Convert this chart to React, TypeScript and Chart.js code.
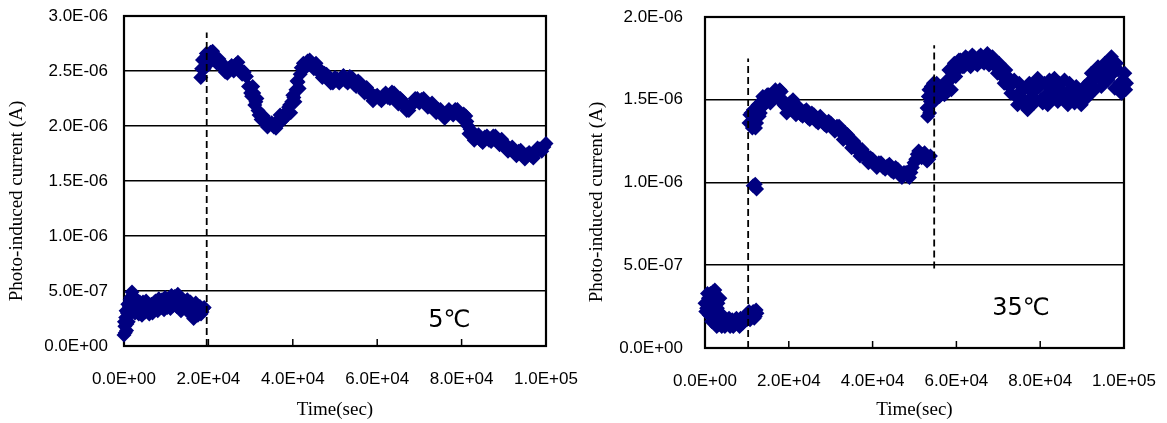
import React, { useEffect, useRef } from 'react';
import { Chart, registerables } from 'chart.js';
Chart.register(...registerables);

// ---------- shared tick labels ----------
const xTickValues = [0, 20000, 40000, 60000, 80000, 100000];
const xTickLabels = ['0.0E+00', '2.0E+04', '4.0E+04', '6.0E+04', '8.0E+04', '1.0E+05'];
const leftYTickLabels = ['0.0E+00', '5.0E-07', '1.0E-06', '1.5E-06', '2.0E-06', '2.5E-06', '3.0E-06'];
const rightYTickLabels = ['0.0E+00', '5.0E-07', '1.0E-06', '1.5E-06', '2.0E-06'];

// ---------- 5°C panel (time in s, current in µA) ----------
const left5DarkTime = [0, 200, 400, 600, 800, 1000, 1300, 1600, 1900, 2200, 2600, 3000, 3500, 4000, 4500, 5000, 5500, 6000, 6500, 7000, 7500, 8000, 8500, 9000, 9500, 10000, 10500, 11000, 11500, 12000, 12500, 13000, 13500, 14000, 14500, 15000, 15500, 16000, 16500, 17000, 17500, 18000, 18500, 19000];
const left5DarkCurrent = [0.10, 0.18, 0.26, 0.14, 0.30, 0.22, 0.36, 0.44, 0.49, 0.39, 0.30, 0.39, 0.29, 0.36, 0.40, 0.31, 0.35, 0.29, 0.38, 0.33, 0.41, 0.32, 0.37, 0.42, 0.33, 0.39, 0.43, 0.34, 0.39, 0.45, 0.36, 0.41, 0.32, 0.40, 0.35, 0.42, 0.30, 0.37, 0.25, 0.39, 0.28, 0.36, 0.31, 0.35];
const left5DarkTimeB = [100, 300, 500, 700, 900, 1150, 1450, 1750, 2050, 2400, 2800, 3250, 3750, 4250, 4750, 5250, 5750, 6250, 6750, 7250, 7750, 8250, 8750, 9250, 9750, 10250, 10750, 11250, 11750, 12250, 12750, 13250, 13750, 14250, 14750, 15250, 15750, 16250, 16750, 17250, 17750, 18250, 18750];
const left5DarkCurrentB = [0.22, 0.12, 0.32, 0.20, 0.38, 0.28, 0.42, 0.34, 0.46, 0.33, 0.36, 0.31, 0.40, 0.28, 0.37, 0.41, 0.33, 0.37, 0.30, 0.40, 0.36, 0.43, 0.35, 0.38, 0.44, 0.35, 0.40, 0.46, 0.37, 0.42, 0.47, 0.38, 0.43, 0.36, 0.41, 0.33, 0.40, 0.33, 0.37, 0.30, 0.34, 0.29, 0.34];
const left5LightTime = [18200, 18600, 19000, 19500, 20000, 21000, 22000, 23000, 24000, 25000, 26000, 27000, 28000, 29000, 30000, 30500, 31000, 31500, 32000, 33000, 34000, 35000, 36000, 37000, 38000, 39000, 39500, 40000, 40500, 41000, 41500, 42000, 43000, 44000, 45000, 46000, 47000, 48000, 49000, 50000, 51000, 52000, 53000, 54000, 55000, 56000, 57000, 58000, 59000, 60000, 61000, 62000, 63000, 64000, 65000, 66000, 67000, 68000, 69000, 70000, 71000, 72000, 73000, 74000, 75000, 76000, 77000, 78000, 79000, 80000, 81000, 81500, 82000, 83000, 84000, 85000, 86000, 87000, 88000, 89000, 90000, 91000, 92000, 93000, 94000, 95000, 96000, 97000, 98000, 99000, 100000];
const left5LightCurrent = [2.44, 2.60, 2.52, 2.66, 2.61, 2.68, 2.57, 2.58, 2.49, 2.53, 2.50, 2.58, 2.47, 2.45, 2.30, 2.36, 2.19, 2.25, 2.10, 2.09, 1.99, 2.03, 1.98, 2.10, 2.07, 2.17, 2.12, 2.28, 2.22, 2.41, 2.34, 2.53, 2.53, 2.60, 2.52, 2.53, 2.44, 2.47, 2.39, 2.44, 2.39, 2.46, 2.39, 2.44, 2.36, 2.39, 2.30, 2.32, 2.23, 2.28, 2.23, 2.30, 2.25, 2.30, 2.20, 2.23, 2.14, 2.19, 2.25, 2.21, 2.25, 2.17, 2.21, 2.12, 2.15, 2.07, 2.15, 2.10, 2.15, 2.07, 2.09, 2.00, 1.97, 1.87, 1.92, 1.85, 1.91, 1.86, 1.91, 1.83, 1.85, 1.77, 1.81, 1.73, 1.78, 1.70, 1.76, 1.71, 1.80, 1.77, 1.84];
const left5LightTimeB = [18400, 19200, 19800, 20500, 21500, 22500, 23500, 24500, 25500, 26500, 27500, 28500, 29500, 30250, 30750, 31250, 31750, 32500, 33500, 34500, 35500, 36500, 37500, 38500, 39250, 39750, 40250, 40750, 41250, 41750, 42500, 43500, 44500, 45500, 46500, 47500, 48500, 49500, 50500, 51500, 52500, 53500, 54500, 55500, 56500, 57500, 58500, 59500, 60500, 61500, 62500, 63500, 64500, 65500, 66500, 67500, 68500, 69500, 70500, 71500, 72500, 73500, 74500, 75500, 76500, 77500, 78500, 79500, 80500, 81250, 81750, 82500, 83500, 84500, 85500, 86500, 87500, 88500, 89500, 90500, 91500, 92500, 93500, 94500, 95500, 96500, 97500, 98500, 99500];
const left5LightCurrentB = [2.52, 2.62, 2.56, 2.67, 2.62, 2.61, 2.53, 2.48, 2.55, 2.56, 2.52, 2.49, 2.36, 2.27, 2.30, 2.22, 2.14, 2.06, 2.05, 2.02, 1.99, 2.05, 2.05, 2.13, 2.19, 2.22, 2.26, 2.33, 2.40, 2.47, 2.57, 2.59, 2.55, 2.57, 2.48, 2.48, 2.45, 2.39, 2.43, 2.44, 2.41, 2.45, 2.38, 2.41, 2.34, 2.35, 2.27, 2.27, 2.25, 2.28, 2.26, 2.31, 2.24, 2.25, 2.18, 2.14, 2.20, 2.25, 2.24, 2.20, 2.18, 2.16, 2.15, 2.11, 2.12, 2.12, 2.15, 2.10, 2.11, 2.04, 1.93, 1.92, 1.91, 1.87, 1.90, 1.87, 1.91, 1.86, 1.88, 1.80, 1.79, 1.76, 1.77, 1.73, 1.74, 1.73, 1.75, 1.79, 1.81];
const left5DashTime = [19600];
const left5DashTop = [2.85];
const left5DashBottom = [0];

// ---------- 35°C panel (time in s, current in µA) ----------
const right35DarkTime = [0, 400, 800, 1000, 1300, 1600, 1900, 2200, 2500, 2800, 3100, 3400, 3700, 4000, 4500, 5000, 5500, 6000, 6500, 7000, 7500, 8000, 8500, 9000, 9500, 10000, 10500, 11000, 11500, 12000, 12400];
const right35DarkCurrent = [0.27, 0.24, 0.30, 0.20, 0.33, 0.16, 0.34, 0.25, 0.31, 0.13, 0.27, 0.17, 0.21, 0.13, 0.18, 0.14, 0.17, 0.13, 0.17, 0.14, 0.18, 0.15, 0.18, 0.15, 0.19, 0.17, 0.22, 0.19, 0.22, 0.19, 0.21];
const right35DarkTimeB = [200, 600, 900, 1150, 1450, 1750, 2050, 2350, 2650, 2950, 3250, 3550, 3850, 4250, 4750, 5250, 5750, 6250, 6750, 7250, 7750, 8250, 8750, 9250, 9750, 10250, 10750, 11250, 11750, 12200];
const right35DarkCurrentB = [0.22, 0.33, 0.26, 0.30, 0.22, 0.30, 0.18, 0.35, 0.20, 0.24, 0.14, 0.30, 0.15, 0.17, 0.13, 0.16, 0.18, 0.15, 0.13, 0.17, 0.15, 0.13, 0.17, 0.16, 0.20, 0.19, 0.17, 0.21, 0.18, 0.23];
const right35BlobTime = [11500, 12000, 12300];
const right35BlobCurrent = [0.98, 0.99, 0.96];
const right35LightTime = [10500, 11000, 11300, 11800, 12300, 12700, 13200, 13800, 14500, 15200, 16000, 16800, 17500, 18200, 18800, 19500, 20200, 21000, 21700, 22500, 23300, 24200, 25000, 26000, 27000, 28000, 29000, 30000, 31000, 32000, 33000, 34000, 35000, 36000, 37000, 38000, 39000, 40000, 41000, 42000, 43000, 44000, 45000, 46000, 47000, 48000, 48800, 49500, 50300, 51000, 51700, 52400, 53000, 53800];
const right35LightCurrent = [1.36, 1.42, 1.33, 1.40, 1.36, 1.47, 1.42, 1.52, 1.48, 1.53, 1.50, 1.56, 1.51, 1.55, 1.47, 1.42, 1.48, 1.50, 1.41, 1.45, 1.40, 1.44, 1.38, 1.41, 1.36, 1.38, 1.34, 1.36, 1.31, 1.34, 1.26, 1.29, 1.21, 1.23, 1.16, 1.18, 1.12, 1.14, 1.09, 1.12, 1.08, 1.11, 1.06, 1.08, 1.03, 1.06, 1.03, 1.09, 1.14, 1.19, 1.15, 1.18, 1.13, 1.16];
const right35LightTimeB = [10700, 11150, 11550, 12050, 12500, 12950, 13500, 14150, 14850, 15600, 16400, 17150, 17850, 18500, 19150, 19850, 20600, 21350, 22100, 22900, 23750, 24600, 25500, 26500, 27500, 28500, 29500, 30500, 31500, 32500, 33500, 34500, 35500, 36500, 37500, 38500, 39500, 40500, 41500, 42500, 43500, 44500, 45500, 46500, 47500, 48400, 49150, 49900, 50650, 51350, 52050, 52700, 53400];
const right35LightCurrentB = [1.41, 1.35, 1.44, 1.33, 1.43, 1.40, 1.49, 1.47, 1.53, 1.48, 1.54, 1.52, 1.56, 1.50, 1.46, 1.47, 1.44, 1.46, 1.46, 1.41, 1.43, 1.39, 1.42, 1.37, 1.40, 1.35, 1.37, 1.33, 1.34, 1.30, 1.30, 1.25, 1.25, 1.19, 1.20, 1.15, 1.15, 1.11, 1.12, 1.09, 1.10, 1.07, 1.09, 1.05, 1.06, 1.04, 1.06, 1.12, 1.17, 1.16, 1.17, 1.16, 1.14];
const right35HighTime = [53000, 53300, 53600, 54000, 54300, 54700, 55300, 56000, 56800, 57500, 58200, 58800, 59500, 60200, 61000, 61800, 62600, 63400, 64200, 65000, 65800, 66600, 67400, 68200, 69000, 69800, 70600, 71400, 72200, 73000, 73800, 74600, 75400, 76200, 77000, 77800, 78600, 79400, 80200, 81000, 81800, 82600, 83400, 84200, 85000, 85800, 86600, 87400, 88200, 89000, 89800, 90600, 91400, 92200, 93000, 93800, 94600, 95400, 96200, 97000, 97800, 98600, 99400, 100200, 100600];
const right35HighCurrent = [1.45, 1.52, 1.42, 1.58, 1.48, 1.55, 1.60, 1.52, 1.58, 1.54, 1.68, 1.56, 1.72, 1.68, 1.74, 1.70, 1.75, 1.70, 1.76, 1.71, 1.77, 1.72, 1.78, 1.72, 1.74, 1.66, 1.70, 1.60, 1.64, 1.54, 1.62, 1.47, 1.58, 1.50, 1.44, 1.55, 1.48, 1.63, 1.50, 1.60, 1.47, 1.57, 1.63, 1.49, 1.56, 1.62, 1.47, 1.55, 1.48, 1.54, 1.47, 1.58, 1.52, 1.66, 1.56, 1.70, 1.58, 1.72, 1.62, 1.76, 1.57, 1.68, 1.54, 1.66, 1.60];
const right35HighTimeB = [53150, 53450, 53800, 54150, 54500, 55000, 55650, 56400, 57150, 57850, 58500, 59150, 59850, 60600, 61400, 62200, 63000, 63800, 64600, 65400, 66200, 67000, 67800, 68600, 69400, 70200, 71000, 71800, 72600, 73400, 74200, 75000, 75800, 76600, 77400, 78200, 79000, 79800, 80600, 81400, 82200, 83000, 83800, 84600, 85400, 86200, 87000, 87800, 88600, 89400, 90200, 91000, 91800, 92600, 93400, 94200, 95000, 95800, 96600, 97400, 98200, 99000, 99800, 100400];
const right35HighCurrentB = [1.40, 1.56, 1.49, 1.52, 1.60, 1.50, 1.56, 1.58, 1.53, 1.62, 1.62, 1.66, 1.64, 1.74, 1.70, 1.76, 1.72, 1.77, 1.72, 1.76, 1.73, 1.76, 1.71, 1.76, 1.70, 1.72, 1.64, 1.68, 1.58, 1.60, 1.52, 1.60, 1.56, 1.46, 1.60, 1.52, 1.56, 1.58, 1.48, 1.53, 1.62, 1.52, 1.57, 1.60, 1.52, 1.54, 1.60, 1.51, 1.58, 1.50, 1.55, 1.51, 1.61, 1.58, 1.64, 1.63, 1.66, 1.66, 1.70, 1.66, 1.72, 1.60, 1.62, 1.56];
const right35DashTime = [10300, 54700];
const right35DashTop = [1.75, 1.83];
const right35DashBottom = [0, 0.48];

const zip = (xs: number[], ys: number[]) => xs.map((x, i) => ({ x, y: ys[i] }));

type PanelProps = {
  segments: { t: number[]; c: number[] }[];
  dashX: number[]; dashTop: number[]; dashBottom: number[];
  yMax: number; yLabels: string[];
  tempText: string; tempX: number; tempY: number;
  width: number; height: number;
  plotLeft: number; plotTop: number; plotRight: number; plotBottom: number;
  yTickPad: number; titleX: number; titleY: number;
};

const TICK_FONT = { family: '"Liberation Sans", Arial, sans-serif', size: 17 };
const NAVY = '#000080';

function Panel(p: PanelProps) {
  const ref = useRef<HTMLCanvasElement | null>(null);
  useEffect(() => {
    if (!ref.current) return;
    const dashSets = p.dashX.map((x, i) => ({
      type: 'line' as const,
      data: [{ x, y: p.dashBottom[i] }, { x, y: p.dashTop[i] }],
      showLine: true,
      borderColor: '#000',
      borderWidth: 1.8,
      borderDash: [7, 4],
      pointRadius: 0,
      order: 0,
      clip: false as any,
    }));
    const points = p.segments.flatMap((s) => zip(s.t, s.c));
    const framePlugin = {
      id: 'frame',
      beforeDatasetsDraw(chart: any) {
        const { ctx, chartArea: a, scales } = chart;
        ctx.save();
        ctx.strokeStyle = '#000';
        ctx.lineWidth = 1.5;
        xTickValues.forEach((v) => {
          const px = scales.x.getPixelForValue(v);
          ctx.beginPath();
          ctx.moveTo(px, a.bottom);
          ctx.lineTo(px, a.bottom - 7);
          ctx.stroke();
        });
        ctx.lineWidth = 2.2;
        ctx.strokeRect(a.left, a.top, a.right - a.left, a.bottom - a.top);
        ctx.restore();
      },
      afterDraw(chart: any) {
        const { ctx, scales } = chart;
        ctx.save();
        ctx.fillStyle = '#000';
        ctx.font = '19px "Liberation Serif", "Times New Roman", serif';
        ctx.textAlign = 'center';
        ctx.textBaseline = 'middle';
        ctx.translate(p.titleX, p.titleY);
        ctx.rotate(-Math.PI / 2);
        ctx.fillText('Photo-induced current (A)', 0, 0);
        ctx.restore();
        ctx.save();
        ctx.fillStyle = '#000';
        ctx.font = '24px "DejaVu Sans", "Liberation Sans", sans-serif';
        ctx.textAlign = 'center';
        ctx.textBaseline = 'middle';
        ctx.fillText(p.tempText, scales.x.getPixelForValue(p.tempX), scales.y.getPixelForValue(p.tempY));
        ctx.restore();
      },
    };
    const chart = new Chart(ref.current, {
      type: 'scatter',
      data: {
        datasets: [
          ...dashSets,
          {
            label: 'current',
            data: points,
            pointStyle: 'rectRot',
            pointRadius: 7.5,
            pointHoverRadius: 7.5,
            backgroundColor: NAVY,
            borderColor: NAVY,
            borderWidth: 0,
            order: 1,
            clip: false as any,
          },
        ] as any,
      },
      options: {
        animation: false,
        responsive: false,
        events: [],
        layout: { padding: { top: p.plotTop, right: p.width - p.plotRight, left: 0, bottom: 0 } },
        plugins: { legend: { display: false }, tooltip: { enabled: false } },
        scales: {
          x: {
            type: 'linear',
            min: 0,
            max: 100000,
            afterBuildTicks: (s: any) => {
              s.ticks = xTickValues.map((v) => ({ value: v }));
            },
            ticks: {
              callback: (_v: any, i: number) => xTickLabels[i],
              padding: 23,
              font: TICK_FONT,
              color: '#000',
              maxRotation: 0,
              autoSkip: false,
            },
            grid: { display: false, drawTicks: false },
            border: { display: false },
            title: {
              display: true,
              text: 'Time(sec)',
              color: '#000',
              font: { family: '"Liberation Serif", "Times New Roman", serif', size: 19 },
              padding: { top: 0, bottom: 2 },
            },
            afterFit: (s: any) => {
              s.height = p.height - p.plotBottom;
              s.paddingLeft = 0;
              s.paddingRight = 0;
            },
          },
          y: {
            type: 'linear',
            min: 0,
            max: p.yMax,
            ticks: {
              stepSize: 0.5,
              callback: (_v: any, i: number) => p.yLabels[i],
              padding: p.yTickPad,
              font: TICK_FONT,
              color: '#000',
            },
            grid: { color: '#000', lineWidth: 1.6, drawTicks: false },
            border: { display: false },
            afterFit: (s: any) => {
              s.width = p.plotLeft;
              s.paddingTop = 0;
              s.paddingBottom = 0;
            },
          },
        },
      } as any,
      plugins: [framePlugin],
    });
    return () => chart.destroy();
  }, []);
  return <canvas ref={ref} width={p.width} height={p.height} style={{ display: 'block', width: p.width, height: p.height }} />;
}

export default function App() {
  return (
    <div style={{ position: 'fixed', left: 0, top: 0, width: 1167, height: 423, background: '#fff' }}>
      <div style={{ position: 'absolute', left: 0, top: 0 }}>
        <Panel
          segments={[
            { t: left5DarkTime, c: left5DarkCurrent },
            { t: left5DarkTimeB, c: left5DarkCurrentB },
            { t: left5LightTime, c: left5LightCurrent },
            { t: left5LightTimeB, c: left5LightCurrentB },
          ]}
          dashX={left5DashTime}
          dashTop={left5DashTop}
          dashBottom={left5DashBottom}
          yMax={3}
          yLabels={leftYTickLabels}
          tempText="5℃"
          tempX={77100}
          tempY={0.227}
          width={583}
          height={423}
          plotLeft={124}
          plotTop={16}
          plotRight={546}
          plotBottom={346}
          yTickPad={16}
          titleX={17.5}
          titleY={201}
        />
      </div>
      <div style={{ position: 'absolute', left: 583, top: 0 }}>
        <Panel
          segments={[
            { t: right35DarkTime, c: right35DarkCurrent },
            { t: right35DarkTimeB, c: right35DarkCurrentB },
            { t: right35BlobTime, c: right35BlobCurrent },
            { t: right35LightTime, c: right35LightCurrent },
            { t: right35LightTimeB, c: right35LightCurrentB },
            { t: right35HighTime, c: right35HighCurrent },
            { t: right35HighTimeB, c: right35HighCurrentB },
          ]}
          dashX={right35DashTime}
          dashTop={right35DashTop}
          dashBottom={right35DashBottom}
          yMax={2}
          yLabels={rightYTickLabels}
          tempText="35℃"
          tempX={75400}
          tempY={0.236}
          width={584}
          height={423}
          plotLeft={122}
          plotTop={17}
          plotRight={541}
          plotBottom={348}
          yTickPad={22}
          titleX={14.5}
          titleY={202}
        />
      </div>
    </div>
  );
}
